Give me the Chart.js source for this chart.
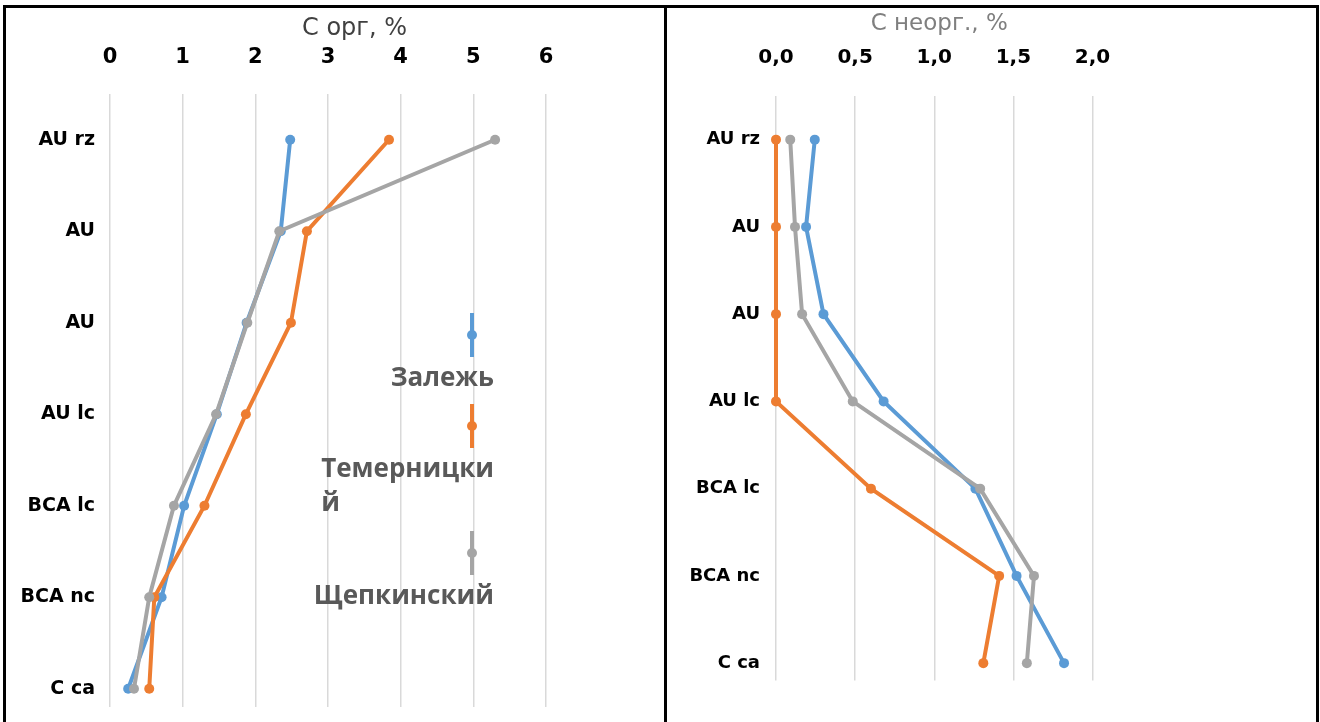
<!DOCTYPE html>
<html lang="ru">
<head>
<meta charset="utf-8">
<title>С орг, % / С неорг., %</title>
<script src="https://cdn.jsdelivr.net/npm/chart.js@4.4.1/dist/chart.umd.min.js"></script>
<style>
    html, body { margin: 0; padding: 0; background: #fff; }
    body { width: 1320px; height: 722px; position: relative; overflow: hidden; }
    .panel { position: absolute; top: 0; height: 722px; }
    #panelIzq { left: 0; width: 664px; }
    #panelDer { left: 666px; width: 654px; }
    .linea { position: absolute; background: #000; z-index: 5; }
</style>
</head>
<body>
<div class="panel" id="panelIzq"><canvas id="graficoOrg"></canvas></div>
<div class="panel" id="panelDer"><canvas id="graficoNeorg"></canvas></div>
<!-- marco de la tabla -->
<div class="linea" style="left:3px; top:5px; width:1316px; height:3px"></div>
<div class="linea" style="left:3px; top:5px; width:3px; height:717px"></div>
<div class="linea" style="left:664px; top:5px; width:3px; height:717px"></div>
<div class="linea" style="left:1316px; top:5px; width:3px; height:717px"></div>

<script>
// Horizontes del perfil (de arriba hacia abajo)
var categorias = ['AU rz', 'AU', 'AU', 'AU lc', 'BCA lc', 'BCA nc', 'C ca'];

// Series (perfiles)
var nombresSeries = ['Залежь', 'Темерницкий', 'Щепкинский'];
var coloresSeries = ['#5B9BD5', '#ED7D31', '#A5A5A5'];

// C orgánico, %
var corgZalezh = [2.48, 2.35, 1.88, 1.47, 1.02, 0.71, 0.25];
var corgTemer = [3.84, 2.71, 2.49, 1.87, 1.30, 0.61, 0.54];
var corgShchep = [5.30, 2.33, 1.89, 1.46, 0.88, 0.54, 0.33];

// C inorgánico, %
var cneorgZalezh = [0.245, 0.19, 0.30, 0.68, 1.26, 1.52, 1.82];
var cneorgTemer = [0, 0, 0, 0, 0.60, 1.41, 1.31];
var cneorgShchep = [0.09, 0.12, 0.165, 0.485, 1.29, 1.63, 1.585];

// Marcas de los ejes
var ticksOrg = [0, 1, 2, 3, 4, 5, 6];
var ticksNeorg = [0, 0.5, 1, 1.5, 2];

// Parte un texto por caracteres cuando no cabe en el ancho dado
function partirTexto(ctx, texto, anchoMax) {
    var lineas = [];
    var actual = '';
    for (var i = 0; i < texto.length; i++) {
        var prueba = actual + texto[i];
        if (ctx.measureText(prueba).width > anchoMax && actual !== '') {
            lineas.push(actual);
            actual = texto[i];
        } else {
            actual = prueba;
        }
    }
    lineas.push(actual);
    return lineas;
}

// Leyenda vertical dentro del área del gráfico (como en el original)
var pluginLeyenda = {
    id: 'leyendaVertical',
    afterDraw: function (chart) {
        var ctx = chart.ctx;
        var xMarca = 472;
        var centros = [335, 426, 553];
        ctx.save();
        ctx.font = 'bold 26px "Open Sans"';
        chart.data.datasets.forEach(function (ds, i) {
            var cy = centros[i];
            // línea corta con punto
            ctx.strokeStyle = ds.borderColor;
            ctx.lineWidth = 4;
            ctx.beginPath();
            ctx.moveTo(xMarca, cy - 22);
            ctx.lineTo(xMarca, cy + 22);
            ctx.stroke();
            ctx.fillStyle = ds.borderColor;
            ctx.beginPath();
            ctx.arc(xMarca, cy, 5, 0, 2 * Math.PI);
            ctx.fill();
            // texto
            var lineas = partirTexto(ctx, ds.label, 183);
            var ancho0 = ctx.measureText(lineas[0]).width;
            ctx.fillStyle = '#595959';
            ctx.textAlign = 'left';
            ctx.textBaseline = 'middle';
            lineas.forEach(function (l, k) {
                ctx.fillText(l, 494 - ancho0, cy + 44 + k * 34);
            });
        });
        ctx.restore();
    }
};

function crearGrafico(idCanvas, op) {
    var ctx = document.getElementById(idCanvas).getContext('2d');

    var datasets = op.series.map(function (valores, i) {
        return {
            label: nombresSeries[i],
            data: valores.map(function (v, j) { return { x: v, y: j }; }),
            borderColor: coloresSeries[i],
            backgroundColor: coloresSeries[i],
            borderWidth: 4,
            pointRadius: 5,
            pointHoverRadius: 5,
            pointBorderWidth: 0,
            tension: 0,
            clip: false,
            order: 3 - i
        };
    });

    return new Chart(ctx, {
        type: 'line',
        data: { datasets: datasets },
        options: {
            responsive: true,
            maintainAspectRatio: false,
            animation: false,
            layout: { padding: op.relleno },
            plugins: {
                legend: { display: false },
                tooltip: { enabled: false }
            },
            scales: {
                x: {
                    type: 'linear',
                    position: 'top',
                    min: 0,
                    max: op.maxX,
                    afterBuildTicks: function (eje) {
                        eje.ticks = op.ticksX.map(function (v) { return { value: v }; });
                    },
                    afterFit: function (eje) {
                        eje.height = op.altoEjeX;
                        eje.paddingLeft = 0;
                        eje.paddingRight = 0;
                    },
                    grid: { color: '#D9D9D9', lineWidth: 1.5, drawTicks: false },
                    border: { display: false },
                    ticks: {
                        color: '#000',
                        padding: op.rellenoTicksX,
                        font: { family: 'DejaVu Sans', weight: 'bold', size: op.fuenteTicksX },
                        callback: op.formatoX
                    },
                    title: {
                        display: true,
                        text: op.titulo,
                        color: op.colorTitulo,
                        font: { family: 'DejaVu Sans', size: op.fuenteTitulo },
                        padding: { top: op.rellenoTitulo, bottom: 0 }
                    }
                },
                y: {
                    type: 'linear',
                    reverse: true,
                    min: -0.5,
                    max: 6.2,
                    afterBuildTicks: function (eje) {
                        eje.ticks = categorias.map(function (c, j) { return { value: j }; });
                    },
                    afterFit: function (eje) {
                        eje.width = 110;
                        eje.paddingTop = 0;
                        eje.paddingBottom = 0;
                    },
                    grid: { display: false, drawTicks: false },
                    border: { display: false },
                    ticks: {
                        color: '#000',
                        padding: op.rellenoTicksY,
                        font: { family: 'DejaVu Sans', weight: 'bold', size: op.fuenteTicksY },
                        callback: function (v) { return categorias[v]; }
                    }
                }
            }
        },
        plugins: op.leyenda ? [pluginLeyenda] : []
    });
}

// Gráfico izquierdo: C org
crearGrafico('graficoOrg', {
    series: [corgZalezh, corgTemer, corgShchep],
    maxX: 6.73,
    ticksX: ticksOrg,
    formatoX: function (v) { return String(v); },
    altoEjeX: 94,
    relleno: { top: 0, right: 65, bottom: 15, left: 0 },
    rellenoTicksX: 24,
    fuenteTicksX: 21,
    titulo: 'С орг, %',
    colorTitulo: '#404040',
    fuenteTitulo: 24,
    rellenoTitulo: 14,
    rellenoTicksY: 15,
    fuenteTicksY: 19,
    leyenda: true
});

// Gráfico derecho: C neorg
crearGrafico('graficoNeorg', {
    series: [cneorgZalezh, cneorgTemer, cneorgShchep],
    maxX: 2.063,
    ticksX: ticksNeorg,
    formatoX: function (v) { return v.toFixed(1).replace('.', ','); },
    altoEjeX: 96,
    relleno: { top: 0, right: 217.5, bottom: 41.4, left: 0 },
    rellenoTicksX: 26,
    fuenteTicksX: 20,
    titulo: 'С неорг., %',
    colorTitulo: '#7F7F7F',
    fuenteTitulo: 23,
    rellenoTitulo: 10,
    rellenoTicksY: 16,
    fuenteTicksY: 18,
    leyenda: false
});
</script>
</body>
</html>
